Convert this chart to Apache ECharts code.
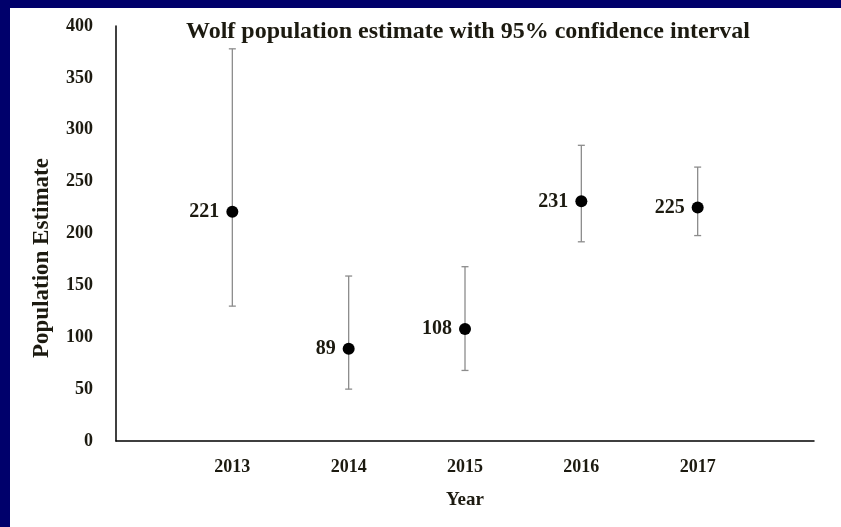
<!DOCTYPE html>
<html><head><meta charset="utf-8">
<script src="https://cdn.jsdelivr.net/npm/echarts@6/dist/echarts.min.js"></script>
<style>
html,body{margin:0;padding:0;background:#00006b;width:841px;height:527px;overflow:hidden}
#c{position:absolute;left:10px;top:8px;width:831px;height:519px;background:#fff}
</style></head>
<body><div id="c"></div>
<script>
const years = [2013, 2014, 2015, 2016, 2017];
const estimates = [221, 89, 108, 231, 225];
const lower95 = [130, 50, 68, 192, 198];
const upper95 = [378, 159, 168, 285, 264];
const yTicks = [0, 50, 100, 150, 200, 250, 300, 350, 400];

const txt = '#1c1a10';
const font = '"Liberation Serif", "Times New Roman", serif';
const chart = echarts.init(document.getElementById('c'));
chart.setOption({
  backgroundColor: '#fff',
  animation: false,
  title: {
    text: 'Wolf population estimate with 95% confidence interval',
    left: 453, top: 7, textAlign: 'center',
    textStyle: {fontFamily: font, fontWeight: 'bold', fontSize: 24, color: txt}
  },
  grid: {left: 106, right: 27, top: 18, bottom: 86},
  xAxis: {
    type: 'value', min: 2012, max: 2018, interval: 1,
    name: 'Year', nameLocation: 'middle', nameGap: 50,
    nameTextStyle: {fontFamily: font, fontWeight: 'bold', fontSize: 19, color: txt},
    axisLine: {show: true, lineStyle: {color: '#000', width: 1.5}},
    axisTick: {show: false},
    splitLine: {show: false},
    axisLabel: {
      fontFamily: font, fontWeight: 'bold', fontSize: 18, color: txt, margin: 17,
      formatter: v => (years.indexOf(v) >= 0 ? String(v) : '')
    }
  },
  yAxis: {
    type: 'value', min: yTicks[0], max: yTicks[yTicks.length - 1], interval: 50,
    axisLine: {show: true, lineStyle: {color: '#000', width: 1.5}},
    axisTick: {show: false},
    splitLine: {show: false},
    axisLabel: {fontFamily: font, fontWeight: 'bold', fontSize: 18, color: txt, margin: 23}
  },
  graphic: [{
    type: 'text', x: 32, y: 250, rotation: Math.PI / 2,
    style: {text: 'Population Estimate', fontFamily: font, fontWeight: 'bold', fontSize: 23,
      fill: txt, align: 'center', verticalAlign: 'middle'}
  }],
  series: [{
    type: 'custom',
    data: years.map((y, i) => [y, lower95[i], upper95[i]]),
    renderItem: function (params, api) {
      const lo = api.coord([api.value(0), api.value(1)]);
      const hi = api.coord([api.value(0), api.value(2)]);
      const hw = 3.5;
      const st = {stroke: '#8c8c8c', lineWidth: 1.3};
      return {type: 'group', children: [
        {type: 'line', shape: {x1: lo[0], y1: lo[1], x2: hi[0], y2: hi[1]}, style: st},
        {type: 'line', shape: {x1: lo[0] - hw, y1: lo[1], x2: lo[0] + hw, y2: lo[1]}, style: st},
        {type: 'line', shape: {x1: hi[0] - hw, y1: hi[1], x2: hi[0] + hw, y2: hi[1]}, style: st}
      ]};
    },
    z: 1
  }, {
    type: 'scatter',
    data: years.map((y, i) => [y, estimates[i]]),
    symbol: 'circle', symbolSize: 12,
    itemStyle: {color: '#000', opacity: 1},
    label: {show: true, position: 'left', distance: 7, formatter: p => String(p.value[1]),
      fontFamily: font, fontWeight: 'bold', fontSize: 20, color: txt},
    z: 3
  }]
});
</script></body></html>
